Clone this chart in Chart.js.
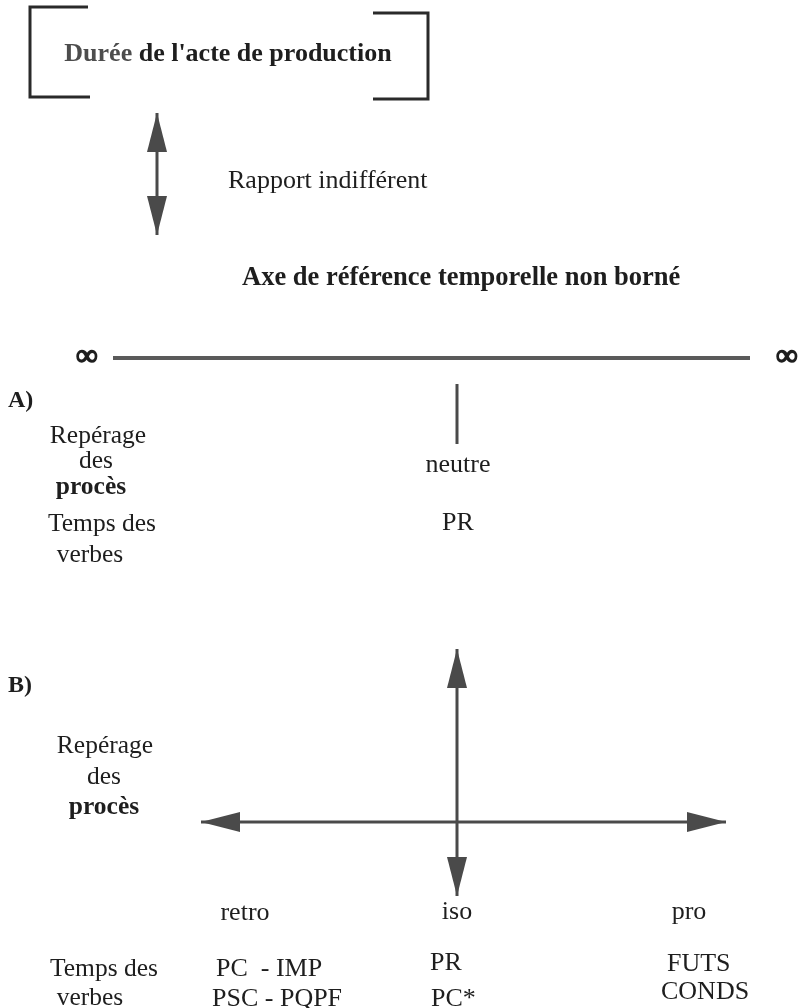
<!DOCTYPE html>
<html>
<head>
<meta charset="utf-8">
<script src="https://cdn.jsdelivr.net/npm/chart.js@4/dist/chart.umd.min.js"></script>
<style>
  html, body { margin: 0; padding: 0; background: #ffffff; }
  #wrap { position: relative; width: 802px; height: 1008px; }
  canvas { display: block; }
</style>
</head>
<body>
<div id="wrap"><canvas id="c" width="802" height="1008"></canvas></div>
<script>
// ---------- diagram data (page units, y grows downward) ----------
const bracketLeft  = [[88, 7], [30, 7], [30, 97], [90, 97]];
const bracketRight = [[373, 13], [428, 13], [428, 99], [373, 99]];
const timeAxis     = [[113, 358], [750, 358]];
const neutralTick  = [[457, 384], [457, 444]];

// double-headed arrows: [start, end]
const arrowRapport  = [[157, 113], [157, 235]];
const arrowVertical = [[457, 649], [457, 896]];
const arrowHoriz    = [[201, 822], [726, 822]];

// texts
const titleWords   = ["Durée", " de l'acte de production"];
const titleTexts   = ["Rapport indifférent", "Axe de référence temporelle non borné"];
const infinityText = ["∞", "∞"];
const sectionTexts = ["A)", "B)"];
const sideLabelsA  = ["Repérage", "des", "procès", "Temps des", "verbes"];
const valuesA      = ["neutre", "PR"];
const sideLabelsB  = ["Repérage", "des", "procès", "Temps des", "verbes"];
const directionsB  = ["retro", "iso", "pro"];
const tensesRetro  = ["PC  - IMP", "PSC - PQPF"];
const tensesIso    = ["PR", "PC*"];
const tensesPro    = ["FUTS", "CONDS"];

// ---------- layout / style (kept apart from the data) ----------
const SERIF = "'Liberation Serif', 'Times New Roman', serif";
const INK = '#1e1e1e';
const LINE = '#4a4a4a';

const textLayout = [
  // [text, x, y(baseline), align, bold, size, strokeWidth]
  [titleTexts[0], 228, 188, 'left', false, 26],
  [titleTexts[1], 242, 285, 'left', true, 26.5],
  [infinityText[0], 87, 365, 'center', true, 30, 1.6],
  [infinityText[1], 787, 365, 'center', true, 30, 1.6],
  [sectionTexts[0], 8, 407, 'left', true, 24],
  [sideLabelsA[0], 98, 443, 'center', false, 25.5],
  [sideLabelsA[1], 96, 468, 'center', false, 25.5],
  [sideLabelsA[2], 91, 494, 'center', true, 25.5],
  [sideLabelsA[3], 102, 531, 'center', false, 25.5],
  [sideLabelsA[4], 90, 562, 'center', false, 25.5],
  [valuesA[0], 458, 472, 'center', false, 26],
  [valuesA[1], 458, 530, 'center', false, 26],
  [sectionTexts[1], 8, 692, 'left', true, 24],
  [sideLabelsB[0], 105, 753, 'center', false, 25.5],
  [sideLabelsB[1], 104, 784, 'center', false, 25.5],
  [sideLabelsB[2], 104, 814, 'center', true, 25.5],
  [directionsB[0], 245, 920, 'center', false, 26],
  [directionsB[1], 457, 919, 'center', false, 26],
  [directionsB[2], 689, 919, 'center', false, 26],
  [sideLabelsB[3], 50, 976, 'left', false, 25.5],
  [sideLabelsB[4], 90, 1005, 'center', false, 25.5],
  [tensesRetro[0], 216, 976, 'left', false, 26],
  [tensesRetro[1], 212, 1006, 'left', false, 26],
  [tensesIso[0], 430, 970, 'left', false, 26],
  [tensesIso[1], 431, 1006, 'left', false, 26],
  [tensesPro[0], 667, 971, 'left', false, 26],
  [tensesPro[1], 661, 999, 'left', false, 26]
];

// title drawn as two runs centred on one point (first word lighter, as in the scan)
const titleLayout = { x: 228, y: 61, size: 26, colors: ['#4d4d4d', INK] };

const toPts = arr => arr.map(p => ({ x: p[0], y: p[1] }));

function lineSet(pts, color, width) {
  return {
    data: toPts(pts),
    borderColor: color,
    borderWidth: width,
    pointRadius: 0,
    fill: false,
    tension: 0,
    borderCapStyle: 'butt',
    borderJoinStyle: 'miter'
  };
}

const arrows = [arrowRapport, arrowVertical, arrowHoriz];
const HEAD_LEN = 39, HEAD_HALF = 10;

const arrowHeadPlugin = {
  id: 'arrowHeads',
  afterDatasetsDraw(chart) {
    const { ctx, scales: { x, y } } = chart;
    ctx.save();
    ctx.fillStyle = LINE;
    arrows.forEach(a => {
      const ends = [[a[0], a[1]], [a[1], a[0]]];
      ends.forEach(([tip, other]) => {
        const tx = x.getPixelForValue(tip[0]), ty = y.getPixelForValue(tip[1]);
        const ox = x.getPixelForValue(other[0]), oy = y.getPixelForValue(other[1]);
        const dx = ox - tx, dy = oy - ty, len = Math.hypot(dx, dy);
        const ux = dx / len, uy = dy / len;
        const bx = tx + ux * HEAD_LEN, by = ty + uy * HEAD_LEN;
        ctx.beginPath();
        ctx.moveTo(tx, ty);
        ctx.lineTo(bx - uy * HEAD_HALF, by + ux * HEAD_HALF);
        ctx.lineTo(bx + uy * HEAD_HALF, by - ux * HEAD_HALF);
        ctx.closePath();
        ctx.fill();
      });
    });
    ctx.restore();
  }
};

const textPlugin = {
  id: 'diagramText',
  afterDraw(chart) {
    const { ctx, scales: { x, y } } = chart;
    ctx.save();
    ctx.textBaseline = 'alphabetic';
    // title runs
    ctx.font = 'bold ' + titleLayout.size + 'px ' + SERIF;
    const widths = titleWords.map(w => ctx.measureText(w).width);
    const total = widths.reduce((s, v) => s + v, 0);
    let cx = x.getPixelForValue(titleLayout.x) - total / 2;
    const ty = y.getPixelForValue(titleLayout.y);
    ctx.textAlign = 'left';
    titleWords.forEach((w, i) => {
      ctx.fillStyle = titleLayout.colors[i];
      ctx.fillText(w, cx, ty);
      cx += widths[i];
    });
    // other labels
    ctx.fillStyle = INK;
    ctx.strokeStyle = INK;
    textLayout.forEach(([t, tx, tyv, align, bold, size, sw]) => {
      ctx.font = (bold ? 'bold ' : '') + size + 'px ' + SERIF;
      ctx.textAlign = align;
      const px = x.getPixelForValue(tx), py = y.getPixelForValue(tyv);
      ctx.fillText(t, px, py);
      if (sw) { ctx.lineWidth = sw; ctx.strokeText(t, px, py); }
    });
    ctx.restore();
  }
};

const bgPlugin = {
  id: 'bg',
  beforeDraw(chart) {
    const { ctx } = chart;
    ctx.save();
    ctx.fillStyle = '#ffffff';
    ctx.fillRect(0, 0, chart.width, chart.height);
    ctx.restore();
  }
};

new Chart(document.getElementById('c'), {
  type: 'line',
  data: {
    datasets: [
      lineSet(bracketLeft, '#2a2a2a', 3),
      lineSet(bracketRight, '#2a2a2a', 3),
      lineSet(timeAxis, '#5a5a5a', 4),
      lineSet(neutralTick, LINE, 3),
      lineSet(arrowRapport, LINE, 3),
      lineSet(arrowVertical, LINE, 3),
      lineSet(arrowHoriz, LINE, 3)
    ]
  },
  options: {
    responsive: false,
    animation: false,
    events: [],
    layout: { padding: 0 },
    plugins: { legend: { display: false }, tooltip: { enabled: false }, title: { display: false } },
    scales: {
      x: { type: 'linear', min: 0, max: 802, display: false },
      y: { type: 'linear', min: 0, max: 1008, reverse: true, display: false }
    }
  },
  plugins: [bgPlugin, arrowHeadPlugin, textPlugin]
});
</script>
</body>
</html>
